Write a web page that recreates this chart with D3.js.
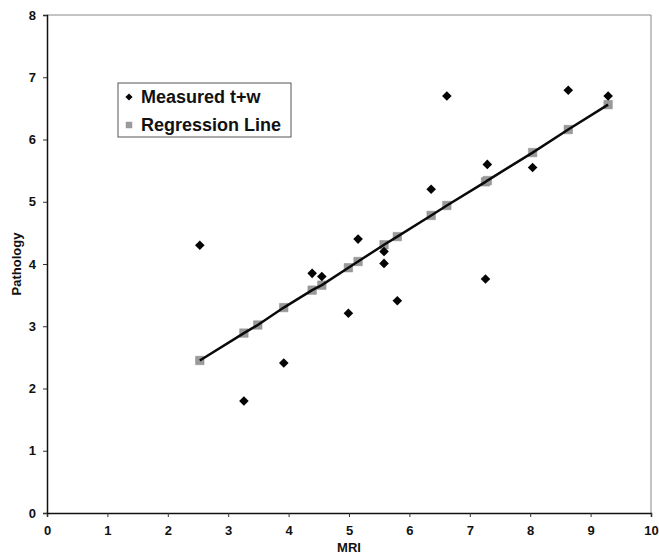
<!DOCTYPE html>
<html>
<head>
<meta charset="utf-8">
<script src="https://cdn.jsdelivr.net/npm/d3@7"></script>
<style>
  body { margin: 0; background: #fff; }
  text { font-family: "Liberation Sans", Arial, sans-serif; font-weight: bold; }
</style>
</head>
<body>
<svg id="chart" width="659" height="560"></svg>
<script>
// measured t+w points (MRI, Pathology)
var measuredX = [2.53, 3.26, 3.92, 4.39, 4.55, 4.99, 5.15, 5.58, 5.58, 5.80, 6.36, 6.62, 7.26, 7.29, 8.04, 8.63, 9.29];
var measuredY = [4.30, 1.80, 2.41, 3.85, 3.80, 3.21, 4.40, 4.20, 4.01, 3.41, 5.20, 6.70, 3.76, 5.60, 5.55, 6.79, 6.70];

// regression line points
var regX = [2.53, 3.26, 3.49, 3.92, 4.39, 4.55, 4.99, 5.15, 5.58, 5.80, 6.36, 6.62, 7.26, 7.29, 8.04, 8.63, 9.29];
var regY = [2.45, 2.89, 3.02, 3.30, 3.58, 3.66, 3.94, 4.04, 4.31, 4.44, 4.78, 4.94, 5.32, 5.34, 5.79, 6.16, 6.56];

var xTicks = [0, 1, 2, 3, 4, 5, 6, 7, 8, 9, 10];
var yTicks = [0, 1, 2, 3, 4, 5, 6, 7, 8];
var legendLabels = ["Measured t+w", "Regression Line"];

var svg = d3.select("#chart"),
    margin = {top: 15, right: 8, bottom: 47, left: 47},
    width = svg.attr("width") - margin.left - margin.right,
    height = svg.attr("height") - margin.top - margin.bottom,
    g = svg.append("g").attr("transform", "translate(" + margin.left + "," + margin.top + ")");

var x = d3.scaleLinear().domain([0, 10]).range([0, width]),
    y = d3.scaleLinear().domain([0, 8]).range([height, 0]);

// top and right frame
g.append("path")
  .attr("d", "M0,0H" + width + "V" + height)
  .attr("fill", "none")
  .attr("stroke", "#888")
  .attr("stroke-width", 1);

var xAxis = g.append("g")
  .attr("transform", "translate(0," + height + ")")
  .call(d3.axisBottom(x).tickValues(xTicks).tickSize(4).tickPadding(9).tickFormat(d3.format("d")));

var yAxis = g.append("g")
  .call(d3.axisLeft(y).tickValues(yTicks).tickSize(4).tickPadding(7).tickFormat(d3.format("d")));

[xAxis, yAxis].forEach(function(a) {
  a.select(".domain").attr("stroke", "#111").attr("stroke-width", 1.5);
  a.selectAll(".tick line").attr("stroke", "#333");
  a.selectAll(".tick text")
    .attr("fill", "#111")
    .style("font-size", "13px")
    .style("font-family", "'Liberation Sans', Arial, sans-serif")
    .style("font-weight", "bold");
});

svg.append("text")
  .attr("x", margin.left + width / 2)
  .attr("y", 552)
  .attr("text-anchor", "middle")
  .style("font-size", "13px")
  .attr("fill", "#111")
  .text("MRI");

svg.append("text")
  .attr("transform", "translate(21," + (margin.top + height / 2) + ") rotate(-90)")
  .attr("text-anchor", "middle")
  .style("font-size", "13px")
  .attr("fill", "#111")
  .text("Pathology");

var reg = regX.map(function(d, i) { return {x: d, y: regY[i]}; });
var meas = measuredX.map(function(d, i) { return {x: d, y: measuredY[i]}; });

var line = d3.line()
  .x(function(d) { return x(d.x); })
  .y(function(d) { return y(d.y); });

var square = d3.symbol().type(d3.symbolSquare).size(72);
var diamond = d3.symbol().type(d3.symbolSquare).size(46);

g.selectAll(".reg")
  .data(reg)
  .enter().append("path")
    .attr("class", "reg")
    .attr("d", square)
    .attr("transform", function(d) { return "translate(" + x(d.x) + "," + y(d.y) + ")"; })
    .attr("fill", "#9a9a9a")
    .attr("stroke", "#8a8a8a")
    .attr("stroke-width", 0.5);

g.append("path")
  .datum(reg)
  .attr("d", line)
  .attr("fill", "none")
  .attr("stroke", "#0a0a0a")
  .attr("stroke-width", 2.5);

g.selectAll(".meas")
  .data(meas)
  .enter().append("path")
    .attr("class", "meas")
    .attr("d", diamond)
    .attr("transform", function(d) { return "translate(" + x(d.x) + "," + y(d.y) + ") rotate(45)"; })
    .attr("fill", "#050505");

// legend
var legend = svg.append("g").attr("transform", "translate(118,83)");
legend.append("rect")
  .attr("width", 173)
  .attr("height", 54)
  .attr("fill", "#fff")
  .attr("stroke", "#555")
  .attr("stroke-width", 1);

var items = legend.selectAll(".item")
  .data(legendLabels)
  .enter().append("g")
    .attr("class", "item")
    .attr("transform", function(d, i) { return "translate(0," + (14 + i * 28) + ")"; });

items.append("path")
  .attr("transform", function(d, i) { return i === 0 ? "translate(11,0) rotate(45)" : "translate(11,0)"; })
  .attr("d", function(d, i) { return d3.symbol().type(d3.symbolSquare).size(i === 0 ? 26 : 42)(); })
  .attr("fill", function(d, i) { return i === 0 ? "#050505" : "#9a9a9a"; });

items.append("text")
  .attr("x", 23)
  .attr("dy", "0.36em")
  .style("font-size", "18px")
  .attr("fill", "#111")
  .text(function(d) { return d; });
</script>
</body>
</html>
